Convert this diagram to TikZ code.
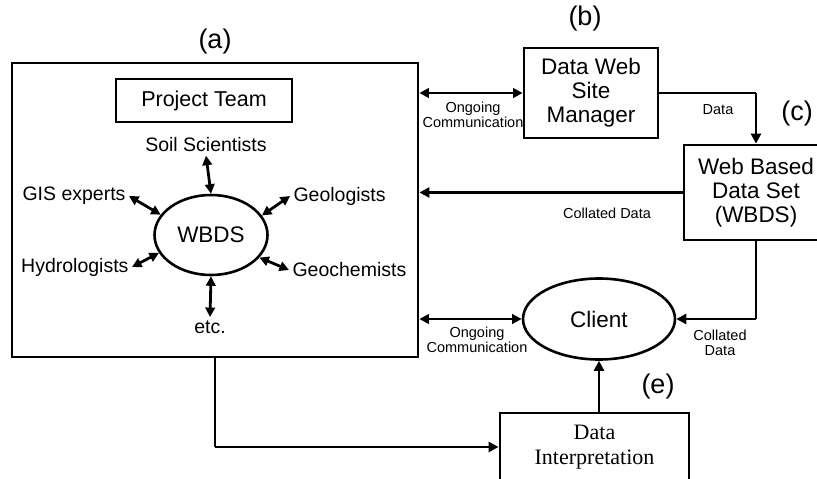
\documentclass[tikz,border=0pt]{standalone}
\usepackage{fontspec}
\setmainfont{Liberation Sans}
\newfontfamily\timesrm{Liberation Serif}
\usetikzlibrary{arrows.meta,shapes.geometric}

\begin{document}
\begin{tikzpicture}[x=1pt,y=-1pt,
    box/.style={draw,line width=2.8pt,align=center,inner sep=0pt},
    bubble/.style={draw,ellipse,line width=2.6pt,inner sep=0pt},
    big/.style={font={\fontsize{22.5}{24}\selectfont}},
    mid/.style={font={\fontsize{19.5}{22}\selectfont}},
    tag/.style={font={\fontsize{27}{30}\selectfont}},
    small/.style={font={\fontsize{14.5}{15.5}\selectfont},align=center},
    link/.style={line width=1.4pt},
    flow/.style={line width=2.8pt,-{Triangle[length=10pt,width=10pt]}},
    twoway/.style={line width=2.8pt,{Triangle[length=9.5pt,width=9.5pt]}-{Triangle[length=9.5pt,width=9.5pt]}}]
    \useasboundingbox (0,0) rectangle (817,479);

    \node[box,minimum width=406pt,minimum height=294pt] (team) at (215,210) {};
    \node[box,line width=2.4pt,minimum width=176pt,minimum height=43pt,font={\fontsize{21.5}{24}\selectfont}] (pteam) at (204,100.5) {Project Team};
    \node[bubble,big,minimum width=113pt,minimum height=80pt] (wbds) at (211,235) {WBDS};
    \node[mid] (soil) at (206,145) {Soil Scientists};
    \node[mid,anchor=east] (gis) at (129,196) {GIS experts};
    \node[mid,anchor=west] (geol) at (290,196) {Geologists};
    \node[mid,anchor=east] (hydro) at (132,267) {Hydrologists};
    \node[mid,anchor=west] (geoch) at (289,270) {Geochemists};
    \node[mid] (etc) at (210,327) {etc.};

    \node[box,big,minimum width=134pt,minimum height=90pt] (manager) at (591,93) {Data Web\\Site\\Manager};
    \node[box,big,minimum width=144pt,minimum height=95pt] (dataset) at (756,192.5) {Web Based\\Data Set\\(WBDS)};
    \node[bubble,big,minimum width=152pt,minimum height=81pt] (client) at (599,319) {Client};
    \node[box,minimum width=189pt,minimum height=68pt,font={\timesrm\fontsize{22}{25}\selectfont}] (interp) at (594.5,447) {Data\\Interpretation};

    \node[tag] (la) at (215,42) {(a)};
    \node[tag] (lb) at (585,19) {(b)};
    \node[tag] (lc) at (797,114) {(c)};
    \node[tag] (le) at (658,387) {(e)};

    \draw[twoway] (soil.south) -- (wbds.north);
    \draw[twoway] (gis.east) -- (wbds.158);
    \draw[twoway] (geol.west) -- (wbds.21);
    \draw[twoway] (hydro.east) -- (wbds.199);
    \draw[twoway] (geoch.west) -- (wbds.335);
    \draw[twoway] (wbds.south) -- (etc.north);

    \draw[twoway] (manager.west -| team.east) -- (manager.west);
    \node[small] (ongoing1) at (473,115) {Ongoing\\Communication};
    \coordinate (dcorner) at (manager.east -| dataset.north);
    \draw[link] (manager.east) -- (dcorner);
    \draw[flow] (dcorner) -- (dataset.north);
    \node[small] (data1) at (718,110) {Data};
    \draw[flow] (dataset.west) -- (dataset.west -| team.east);
    \node[small] (collated1) at (607,213) {Collated Data};

    \draw[twoway] (client.west -| team.east) -- (client.west);
    \node[small] (ongoing2) at (477,340) {Ongoing\\Communication};
    \coordinate (ccorner) at (dataset.south |- client.east);
    \draw[link] (dataset.south) -- (ccorner);
    \draw[flow] (ccorner) -- (client.east);
    \node[small] (collated2) at (720,343) {Collated\\Data};

    \draw[flow] (client.south |- interp.north) -- (client.south);
    \coordinate (icorner) at (team.south |- interp.west);
    \draw[link] (team.south) -- (icorner);
    \draw[flow] (icorner) -- (interp.west);
\end{tikzpicture}
\end{document}
